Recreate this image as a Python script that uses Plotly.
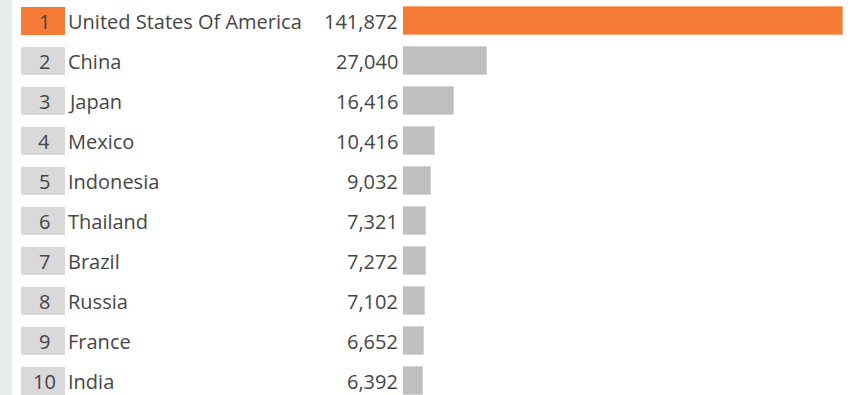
import plotly.graph_objects as go

ranks = [1, 2, 3, 4, 5, 6, 7, 8, 9, 10]
countries = ["United States Of America", "China", "Japan", "Mexico", "Indonesia",
             "Thailand", "Brazil", "Russia", "France", "India"]
values = [141872, 27040, 16416, 10416, 9032, 7321, 7272, 7102, 6652, 6392]

ORANGE = "#f47a35"
ORANGE_EDGE = "#f8a676"
GREY_BAR = "#bfbfbf"
GREY_EDGE = "#d4d4d4"
GREY_BOX = "#d9d9d9"
TEXT = "#464646"
FONT = "Open Sans"
FSIZE = 20

W, H = 848, 395
rows = list(range(len(countries)))
bar_colors = [ORANGE if i == 0 else GREY_BAR for i in rows]
edge_colors = [ORANGE_EDGE if i == 0 else GREY_EDGE for i in rows]
box_colors = [ORANGE if i == 0 else GREY_BOX for i in rows]

fig = go.Figure()

# value bars
fig.add_trace(go.Bar(
    x=values, y=rows, orientation="h", width=0.68,
    marker=dict(color=bar_colors, line=dict(width=1, color=edge_colors)),
    xaxis="x", yaxis="y", hoverinfo="skip", showlegend=False,
))

# rank boxes
fig.add_trace(go.Bar(
    x=[1] * len(ranks), y=rows, orientation="h", width=0.68,
    marker=dict(color=box_colors, line=dict(width=0)),
    xaxis="x2", yaxis="y", hoverinfo="skip", showlegend=False,
))

annotations = []
for i in rows:
    annotations.append(dict(
        x=44 / W, y=i, xref="paper", yref="y", text=str(ranks[i]),
        showarrow=False, xanchor="center", yanchor="middle",
        font=dict(family=FONT, size=FSIZE, color=TEXT),
    ))
    annotations.append(dict(
        x=66 / W, y=i, xref="paper", yref="y", text=countries[i],
        showarrow=False, xanchor="left", yanchor="middle",
        font=dict(family=FONT, size=FSIZE, color=TEXT),
    ))
    annotations.append(dict(
        x=400 / W, y=i, xref="paper", yref="y", text=f"{values[i]:,}",
        showarrow=False, xanchor="right", yanchor="middle",
        font=dict(family=FONT, size=FSIZE, color=TEXT),
    ))

fig.update_layout(
    width=W, height=H,
    margin=dict(l=0, r=0, t=0, b=0),
    paper_bgcolor="white", plot_bgcolor="white",
    bargap=0,
    xaxis=dict(domain=[403 / W, 843 / W], range=[0, values[0]], visible=False, fixedrange=True),
    xaxis2=dict(domain=[21 / W, 65 / W], range=[0, 1], visible=False, fixedrange=True, anchor="y"),
    yaxis=dict(range=[9.35, -0.525], visible=False, fixedrange=True),
    annotations=annotations,
    shapes=[dict(type="rect", xref="paper", yref="paper", x0=0, x1=12 / W, y0=0, y1=1,
                 fillcolor="#e7ecec", line=dict(width=0), layer="below")],
)

fig.write_html("out.html")
